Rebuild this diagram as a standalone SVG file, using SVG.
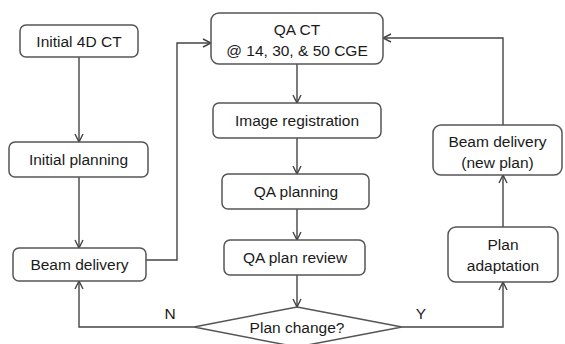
<svg xmlns="http://www.w3.org/2000/svg" width="565" height="344" viewBox="0 0 565 344">
<style>
.box{fill:#fff;stroke:#555;stroke-width:1.5}
.t{font-family:"Liberation Sans",Arial,sans-serif;font-size:15.5px;fill:#1a1a1a;text-anchor:middle}
.c{fill:none;stroke:#444;stroke-width:1.4}
</style>
<defs>
<marker id="a" viewBox="0 0 10 10" refX="9" refY="5" markerWidth="10" markerHeight="10" markerUnits="userSpaceOnUse" orient="auto">
<path d="M1,1 L9,5 L1,9" fill="none" stroke="#444" stroke-width="1.4"/>
</marker>
</defs>
<rect width="565" height="344" fill="#fff"/>
<g id="connectors">
<path class="c" d="M79,57 V142" marker-end="url(#a)"/>
<path class="c" d="M79,177 V248" marker-end="url(#a)"/>
<path class="c" d="M146,260 H177 V43 H211" marker-end="url(#a)"/>
<path class="c" d="M297,64 V103" marker-end="url(#a)"/>
<path class="c" d="M297,138 V174" marker-end="url(#a)"/>
<path class="c" d="M297,209 V240" marker-end="url(#a)"/>
<path class="c" d="M297,275 V307" marker-end="url(#a)"/>
<path class="c" d="M194,327 H79 V281" marker-end="url(#a)"/>
<path class="c" d="M402,327 H503 V282" marker-end="url(#a)"/>
<path class="c" d="M503,227 V175" marker-end="url(#a)"/>
<path class="c" d="M503,125 V38 H383" marker-end="url(#a)"/>
<text class="t" x="170" y="319">N</text>
<text class="t" x="421" y="319">Y</text>
</g>
<g id="initial4dct"><rect class="box" x="20" y="25" width="118" height="32" rx="6"/><text class="t" x="79" y="46.5">Initial 4D CT</text></g>
<g id="initialplanning"><rect class="box" x="9" y="142" width="139" height="35" rx="6"/><text class="t" x="78.5" y="165">Initial planning</text></g>
<g id="beamdelivery"><rect class="box" x="13" y="248" width="133" height="33" rx="6"/><text class="t" x="79.5" y="270">Beam delivery</text></g>
<g id="qact"><rect class="box" x="211" y="13" width="172" height="51" rx="8"/><text class="t" x="297" y="35">QA CT</text><text class="t" x="297" y="55.5">@ 14, 30, &amp; 50 CGE</text></g>
<g id="imagereg"><rect class="box" x="213" y="103" width="168" height="35" rx="6"/><text class="t" x="297" y="126">Image registration</text></g>
<g id="qaplanning"><rect class="box" x="222" y="174" width="147" height="35" rx="6"/><text class="t" x="296" y="197">QA planning</text></g>
<g id="qaplanreview"><rect class="box" x="224" y="240" width="141" height="35" rx="6"/><text class="t" x="295" y="263">QA plan review</text></g>
<g id="planchange"><polygon class="box" points="297,307 402,327 297,347 194,327"/><text class="t" x="297" y="332.5">Plan change?</text></g>
<g id="planadaptation"><rect class="box" x="448" y="227" width="110" height="55" rx="8"/><text class="t" x="503" y="250">Plan</text><text class="t" x="503" y="270.5">adaptation</text></g>
<g id="beamdeliverynew"><rect class="box" x="433" y="125" width="129" height="50" rx="8"/><text class="t" x="497.5" y="147">Beam delivery</text><text class="t" x="497.5" y="167.5">(new plan)</text></g>
</svg>
